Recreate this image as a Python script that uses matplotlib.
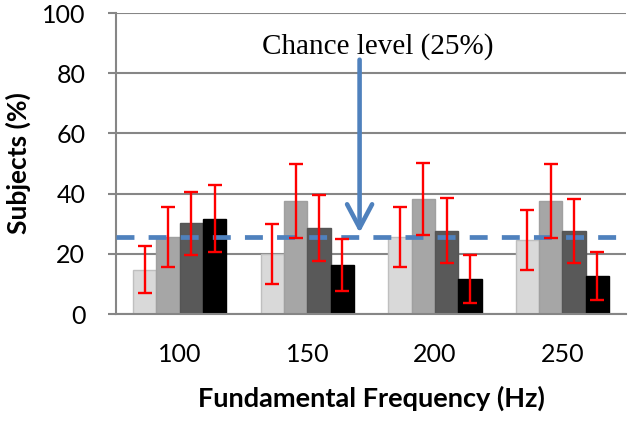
import numpy as np
import matplotlib
matplotlib.use('Agg')
from matplotlib import pyplot as plt

# categories and series
freqs = ['100', '150', '200', '250']
light = [14.8, 19.9, 25.5, 24.6]
light_err = [7.8, 9.9, 10.0, 10.0]
medium = [25.5, 37.6, 38.3, 37.6]
medium_err = [10.0, 12.2, 12.0, 12.2]
dark = [30.1, 28.6, 27.7, 27.7]
dark_err = [10.6, 11.1, 10.7, 10.6]
black = [31.7, 16.3, 11.7, 12.6]
black_err = [11.1, 8.8, 8.0, 8.0]
chance = 25.5
yticks = [0, 20, 40, 60, 80, 100]

series = [light, medium, dark, black]
errors = [light_err, medium_err, dark_err, black_err]
fills = ['#D9D9D9', '#A6A6A6', '#595959', '#000000']
edges = ['#BFBFBF', '#A0A0A0', '#555555', '#000000']

plt.rcParams['font.family'] = ['Lato', 'DejaVu Sans']
grid_col = '#868686'

fig = plt.figure(figsize=(6.3, 4.21), dpi=100)
ax = fig.add_axes([0.184, 0.254, 0.81, 0.715])

x = np.arange(len(freqs))
w = 0.183
for i, (vals, errs) in enumerate(zip(series, errors)):
    pos = x + (i - 1.5) * w
    ax.bar(pos, vals, width=w, color=fills[i], edgecolor=edges[i], linewidth=1, zorder=2)
    ax.errorbar(pos, vals, yerr=errs, fmt='none', ecolor='#FF0000', elinewidth=1.7,
                capsize=4.8, capthick=1.7, zorder=4)

# chance level line
ax.axhline(chance, color='#4F81BD', lw=3.4, dashes=(3.8, 3.0), zorder=3)

ax.annotate('', xy=(1.41, 27.0), xytext=(1.41, 84.5),
            arrowprops=dict(arrowstyle='->,head_length=1.7,head_width=0.9',
                            color='#4F81BD', lw=3.3, shrinkA=0, shrinkB=0), zorder=5)
ax.text(1.555, 89, 'Chance level (25%)', ha='center', va='center',
        family='Liberation Serif', fontsize=21)

ax.set_xlim(-0.5, 3.5)
ax.set_ylim(0, 100)
ax.set_yticks(yticks)
ax.set_xticks(x)
ax.set_xticklabels(freqs)
ax.yaxis.grid(True, color=grid_col, lw=1.5, zorder=0)
ax.set_axisbelow(True)

for s in ['top', 'right']:
    ax.spines[s].set_visible(False)
ax.spines['left'].set_color(grid_col)
ax.spines['left'].set_linewidth(1.5)
ax.spines['bottom'].set_color(grid_col)
ax.spines['bottom'].set_linewidth(1.5)

ax.tick_params(axis='y', length=6, width=1.5, color=grid_col, pad=16, labelsize=18)
ax.tick_params(axis='x', length=0, pad=21, labelsize=18)

ax.set_ylabel('Subjects (%)', fontsize=19, fontweight='bold', labelpad=8)
ax.set_xlabel('Fundamental Frequency (Hz)', fontsize=19.5, fontweight='bold', labelpad=14)

plt.savefig('out.png', dpi=100)
